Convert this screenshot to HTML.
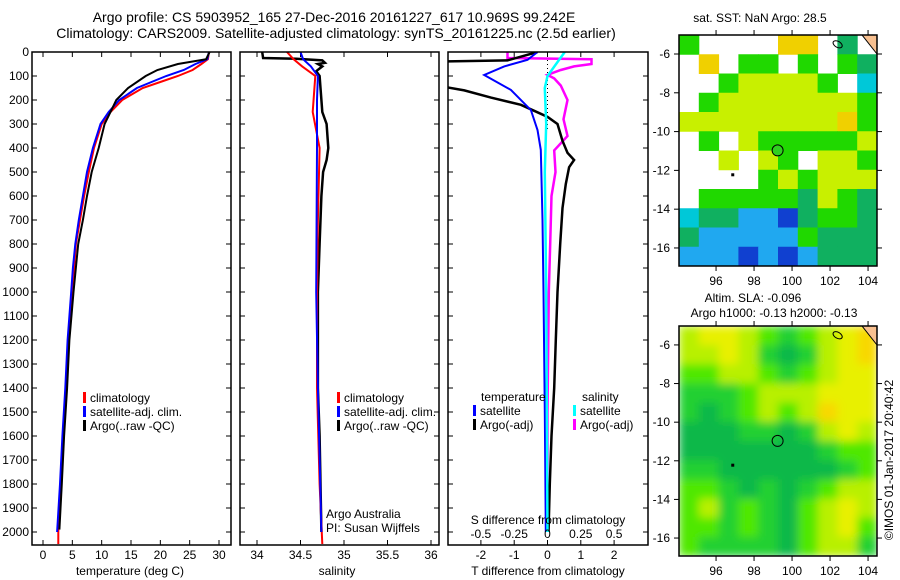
<!DOCTYPE html>
<html><head><meta charset="utf-8"><style>
body{margin:0;background:#fff}
svg{display:block;font-family:"Liberation Sans",sans-serif}
text{fill:#000}
</style></head><body>
<svg id="s" width="900" height="580" viewBox="0 0 900 580">
<defs>
<filter id="blur" x="0" y="0" width="1" height="1"><feGaussianBlur stdDeviation="4.5" edgeMode="duplicate"/></filter>
<clipPath id="c1"><rect x="32" y="52" width="199" height="493"/></clipPath>
<clipPath id="c2"><rect x="240" y="52" width="199" height="493"/></clipPath>
<clipPath id="c3"><rect x="448" y="52" width="200" height="493"/></clipPath>
<clipPath id="cm1"><rect x="679" y="35" width="198" height="231"/></clipPath>
<clipPath id="cm2"><rect x="679" y="326" width="198" height="230"/></clipPath>
</defs>
<text x="334" y="22" font-size="14" text-anchor="middle">Argo profile: CS 5903952_165 27-Dec-2016 20161227_617 10.969S 99.242E</text>
<text x="336" y="38" font-size="14" text-anchor="middle">Climatology: CARS2009. Satellite-adjusted climatology: synTS_20161225.nc (2.5d earlier)</text>
<g id="g1"></g>
<g id="g2"></g>
<g id="g3"></g>
<g id="m1"></g>
<g id="m2"></g>
<text x="760" y="22" font-size="12" text-anchor="middle">sat. SST: NaN Argo: 28.5</text>
<text x="753" y="302" font-size="12" text-anchor="middle">Altim. SLA: -0.096</text>
<text x="774" y="317" font-size="12" text-anchor="middle">Argo h1000: -0.13 h2000: -0.13</text>
<text font-size="12" text-anchor="middle" transform="translate(893,460) rotate(-90)">©IMOS 01-Jan-2017 20:40:42</text>
</svg>
<script>
// ---- data ----
const depthTicks=[0,100,200,300,400,500,600,700,800,900,1000,1100,1200,1300,1400,1500,1600,1700,1800,1900,2000];
const tempTicks=[0,5,10,15,20,25,30];
const salTicks=[34,34.5,35,35.5,36];
const tdiffTicks=[-2,-1,0,1,2];
const sdiffTicks=[-0.5,-0.25,0,0.25,0.5];
const lonTicks=[96,98,100,102,104];
const latTicks=[-6,-8,-10,-12,-14,-16];
const climTD=[0,30,50,75,100,125,150,200,250,300,400,500,600,700,800,900,1000,1200,1400,1600,1800,2000,2050];
const climT=[28.3,28.1,27,25.5,23,20,17,13.5,11.5,10,8.7,7.8,7,6.3,5.6,5.3,4.9,4.3,3.9,3.4,3.0,2.6,2.6];
const satTD=[0,30,50,75,100,125,150,200,250,300,400,500,600,700,800,900,1000,1200,1400,1600,1800,2000];
const satT=[28.3,28,26,24,21,18.5,16,13,11.2,9.8,8.5,7.5,6.8,6.1,5.5,5.1,4.8,4.2,3.8,3.3,2.9,2.4];
const argoTD=[0,30,50,75,100,150,200,250,300,400,500,600,700,800,1000,1200,1400,1600,1800,1990];
const argoT=[28.4,27.8,23,19.5,17.5,14.5,12.5,11.5,10.5,9.5,8.3,7.5,6.8,6.0,5.2,4.5,4.1,3.6,3.2,2.8];
const climSD=[0,30,60,100,250,400,700,1000,1400,1800,2050];
const climS=[34.345,34.42,34.52,34.67,34.64,34.72,34.7,34.69,34.69,34.72,34.75];
const satSD=[0,30,60,100,200,400,1000,1400,2000];
const satS=[34.5,34.53,34.62,34.7,34.69,34.69,34.68,34.7,34.74];
const argoSD=[0,25,28,35,45,50,60,80,100,150,250,300,400,450,500,600,800,1000,1400,1600,2000];
const argoS=[34.06,34.07,34.45,34.75,34.78,34.7,34.75,34.68,34.72,34.73,34.75,34.8,34.82,34.8,34.76,34.74,34.72,34.7,34.7,34.72,34.74];
const tSatD=[0,33,60,96,158,242,325,408,700,1000,1500,2000];
const tSat=[-0.3,-0.6,-1.3,-1.9,-1.1,-0.5,-0.3,-0.2,-0.15,-0.12,-0.08,-0.05];
const tArgoD=[0,35,40,60,100,140,160,190,220,245,270,300,370,420,450,480,550,650,800,1000,1200,1400,1600,1800,2000];
const tArgo=[-0.3,-1.2,-3.5,-3.5,-3.5,-3.3,-2.5,-1.7,-0.8,-0.4,0,0.3,0.45,0.6,0.8,0.65,0.55,0.45,0.38,0.3,0.25,0.2,0.12,0.07,0.03];
const sSatD=[0,30,100,150,300,500,1000,2000];
const sSat=[0.13,0.09,0,-0.02,-0.01,-0.02,-0.01,0];
const sArgoD=[0,25,30,35,50,60,75,95,110,140,200,280,350,410,500,600,800,1000,1500,2000];
const sArgo=[-0.3,-0.3,0.33,0.33,0.33,0.2,0.1,0,0.05,0.1,0.15,0.12,0.15,0.05,0.06,0.03,0.02,0.01,0,0];
const sstRows=["g....aa.t.",".a.gg.g.gt","..gbbbbg.c",".gbbbbbbbg","bbbbbbbbag",".g.bgggggb","..b.bg.bbg","....gbgbbb",".gggggtbgt","cttlldtggt","tlllllgttt","llldldlttt"];
const slaRows=["3443212345","3343101345","2233212344","1112333444","1012323544","0001101343","0000000122","1100000012","2210101233","2312102343","2212102342","2111102331"];
// ---- helpers ----
const NS="http://www.w3.org/2000/svg";
function mk(p,t,a){const e=document.createElementNS(NS,t);for(const k in a)e.setAttribute(k,a[k]);p.appendChild(e);return e;}
const yD=d=>52+d*0.24;
const xT=t=>43+t*5.867;
const xS=s=>257+(s-34)*87;
const xTd=t=>547.5+t*33.3;
const xSd=s=>547.5+s*133.2;
function line(g,xs,ds,xf,col,w,clip,name){
  const pts=xs.map((v,i)=>xf(v).toFixed(1)+","+yD(ds[i]).toFixed(1)).join(" ");
  const e=mk(g,"polyline",{points:pts,fill:"none",stroke:col,"stroke-width":w,"clip-path":"url(#"+clip+")"});
  
  
}
function frame(g,x,w,name){
  const e=mk(g,"rect",{x:x,y:52,width:w,height:493,fill:"none",stroke:"#000","stroke-width":1.5});
  
  
}
function xticks(g,vals,f,ly){
  vals.forEach(v=>{const x=f(v);
    mk(g,"line",{x1:x,x2:x,y1:545,y2:540,stroke:"#000"});
    mk(g,"line",{x1:x,x2:x,y1:52,y2:57,stroke:"#000"});
    const t=mk(g,"text",{x:x,y:ly,"font-size":12,"text-anchor":"middle"});t.textContent=v;
    
    
  });
}
function yticks(g,x0,x1,labels){
  depthTicks.forEach(d=>{const y=yD(d);
    mk(g,"line",{x1:x0,x2:x0+5,y1:y,y2:y,stroke:"#000"});
    mk(g,"line",{x1:x1,x2:x1-5,y1:y,y2:y,stroke:"#000"});
    if(labels){const t=mk(g,"text",{x:x0-3,y:y+4,"font-size":12,"text-anchor":"end"});t.textContent=d;
      
      }
  });
}
function txt(g,x,y,s,name,anchor){const t=mk(g,"text",{x:x,y:y,"font-size":12,"text-anchor":anchor||"start"});t.textContent=s;
  
  return t;}
function legend(g,x,y,col,s,name){
  const r=mk(g,"rect",{x:x,y:y-10,width:3,height:11,fill:col});
  
  
  txt(g,x+7,y,s,name);
}
// ---- panel 1 ----
const g1=document.getElementById("g1");
yticks(g1,32,231,true);xticks(g1,tempTicks,xT,559);
line(g1,climT,climTD,xT,"#f00",2,"c1","climatology-temp-line");
line(g1,satT,satTD,xT,"#00f",2,"c1","satellite-temp-line");
line(g1,argoT,argoTD,xT,"#000",2,"c1","argo-temp-line");
frame(g1,32,199,"temperature-frame");
legend(g1,83,402,"#f00","climatology","legend-climatology");
legend(g1,83,416,"#00f","satellite-adj. clim.","legend-satellite");
legend(g1,83,430,"#000","Argo(..raw -QC)","legend-argo");
txt(g1,130,575,"temperature (deg C)","x-axis-title-temperature","middle");
// ---- panel 2 ----
const g2=document.getElementById("g2");
yticks(g2,240,439,false);xticks(g2,salTicks,xS,559);
line(g2,argoS,argoSD,xS,"#000",2.5,"c2","argo-salinity-line");
line(g2,climS,climSD,xS,"#f00",2,"c2","climatology-salinity-line");
line(g2,satS,satSD,xS,"#00f",2,"c2","satellite-salinity-line");
frame(g2,240,199,"salinity-frame");
legend(g2,337,402,"#f00","climatology","legend-climatology-2");
legend(g2,337,416,"#00f","satellite-adj. clim.","legend-satellite-2");
legend(g2,337,430,"#000","Argo(..raw -QC)","legend-argo-2");
txt(g2,326,518,"Argo Australia","credit-argo-australia");
txt(g2,326,532,"PI: Susan Wijffels","credit-pi");
txt(g2,337,575,"salinity","x-axis-title-salinity","middle");
// ---- panel 3 ----
const g3=document.getElementById("g3");
yticks(g3,448,648,false);xticks(g3,tdiffTicks,xTd,559);
mk(g3,"line",{x1:547.5,x2:547.5,y1:52,y2:130,stroke:"#000","stroke-dasharray":"1,3"});
line(g3,sArgo,sArgoD,xSd,"#f0f",2.5,"c3","argo-salinity-diff-line");
line(g3,tArgo,tArgoD,xTd,"#000",2.5,"c3","argo-temp-diff-line");
line(g3,tSat,tSatD,xTd,"#00f",2,"c3","satellite-temp-diff-line");
line(g3,sSat,sSatD,xSd,"#0ff",2.5,"c3","satellite-salinity-diff-line");
frame(g3,448,200,"difference-frame");
txt(g3,481,401,"temperature","legend-temperature-heading");
txt(g3,582,401,"salinity","legend-salinity-heading");
legend(g3,473,415,"#00f","satellite","legend-temp-satellite");
legend(g3,473,429,"#000","Argo(-adj)","legend-temp-argo");
legend(g3,573,415,"#0ff","satellite","legend-sal-satellite");
legend(g3,573,429,"#f0f","Argo(-adj)","legend-sal-argo");
txt(g3,548,524,"S difference from climatology","s-diff-axis-title","middle");
sdiffTicks.forEach(v=>txt(g3,xSd(v),538,String(v),"s-diff-tick-label","middle"));
txt(g3,548,575,"T difference from climatology","t-diff-axis-title","middle");
// ---- maps ----
const xL=l=>679+(l-94.05)*19;
function map(id,y0,h,rows,colors,blur,clip,name){
  const g=document.getElementById(id);
  const yl=la=>y0+(-5.02-la)*(h/11.91);
  const inner=mk(g,"g",{"clip-path":"url(#"+clip+")"});
  const gg=blur?mk(inner,"g",{filter:"url(#blur)"}):inner;
  if(blur){mk(gg,"rect",{x:679,y:y0,width:198,height:h,fill:colors[2]});}
  rows.forEach((r,ri)=>{for(let ci=0;ci<r.length;ci++){const c=colors[r[ci]];if(!c)continue;
    const e=mk(gg,"rect",{x:679+ci*19.8,y:y0+ri*(h/12),width:20.3,height:h/12+0.5,fill:c});
    
    }});
  mk(inner,"polygon",{points:"862,"+y0+" 877,"+y0+" 877,"+(y0+19),fill:"#f8c090",stroke:"#000"});
  mk(inner,"ellipse",{cx:xL(102.4),cy:yl(-5.5),rx:5,ry:3,fill:"none",stroke:"#000",transform:"rotate(30 "+xL(102.4)+" "+yl(-5.5)+")"});
  mk(inner,"rect",{x:xL(96.8),y:yl(-12.15),width:3,height:3,fill:"#000"});
  const m=mk(g,"circle",{cx:xL(99.24),cy:yl(-10.97),r:5.5,fill:blur?"none":"#30d020",stroke:"#000"});
  
  
  const f=mk(g,"rect",{x:679,y:y0,width:198,height:h,fill:"none",stroke:"#000","stroke-width":1.5});
  
  
  lonTicks.forEach(l=>{const x=xL(l);mk(g,"line",{x1:x,x2:x,y1:y0,y2:y0-5,stroke:"#000"});mk(g,"line",{x1:x,x2:x,y1:y0+h,y2:y0+h+5,stroke:"#000"});
    txt(g,x,y0+h+19,String(l),"lon-tick-label","middle");});
  latTicks.forEach(la=>{const y=yl(la);mk(g,"line",{x1:679,x2:674,y1:y,y2:y,stroke:"#000"});mk(g,"line",{x1:877,x2:882,y1:y,y2:y,stroke:"#000"});
    txt(g,670,y+4,String(la),"lat-tick-label","end");});
}
map("m1",35,231,sstRows,{a:"#f0d000",b:"#c8f000",g:"#20d800",t:"#10b060",c:"#00c8d8",l:"#20a8f0",d:"#1040d0"},false,"cm1","sst-map");
map("m2",326,230,slaRows,{"0":"#10b848","1":"#20d030","2":"#50e800","3":"#b8f000","4":"#e8f000","5":"#f8d800"},true,"cm2","sla-map");
</script>
</body></html>
